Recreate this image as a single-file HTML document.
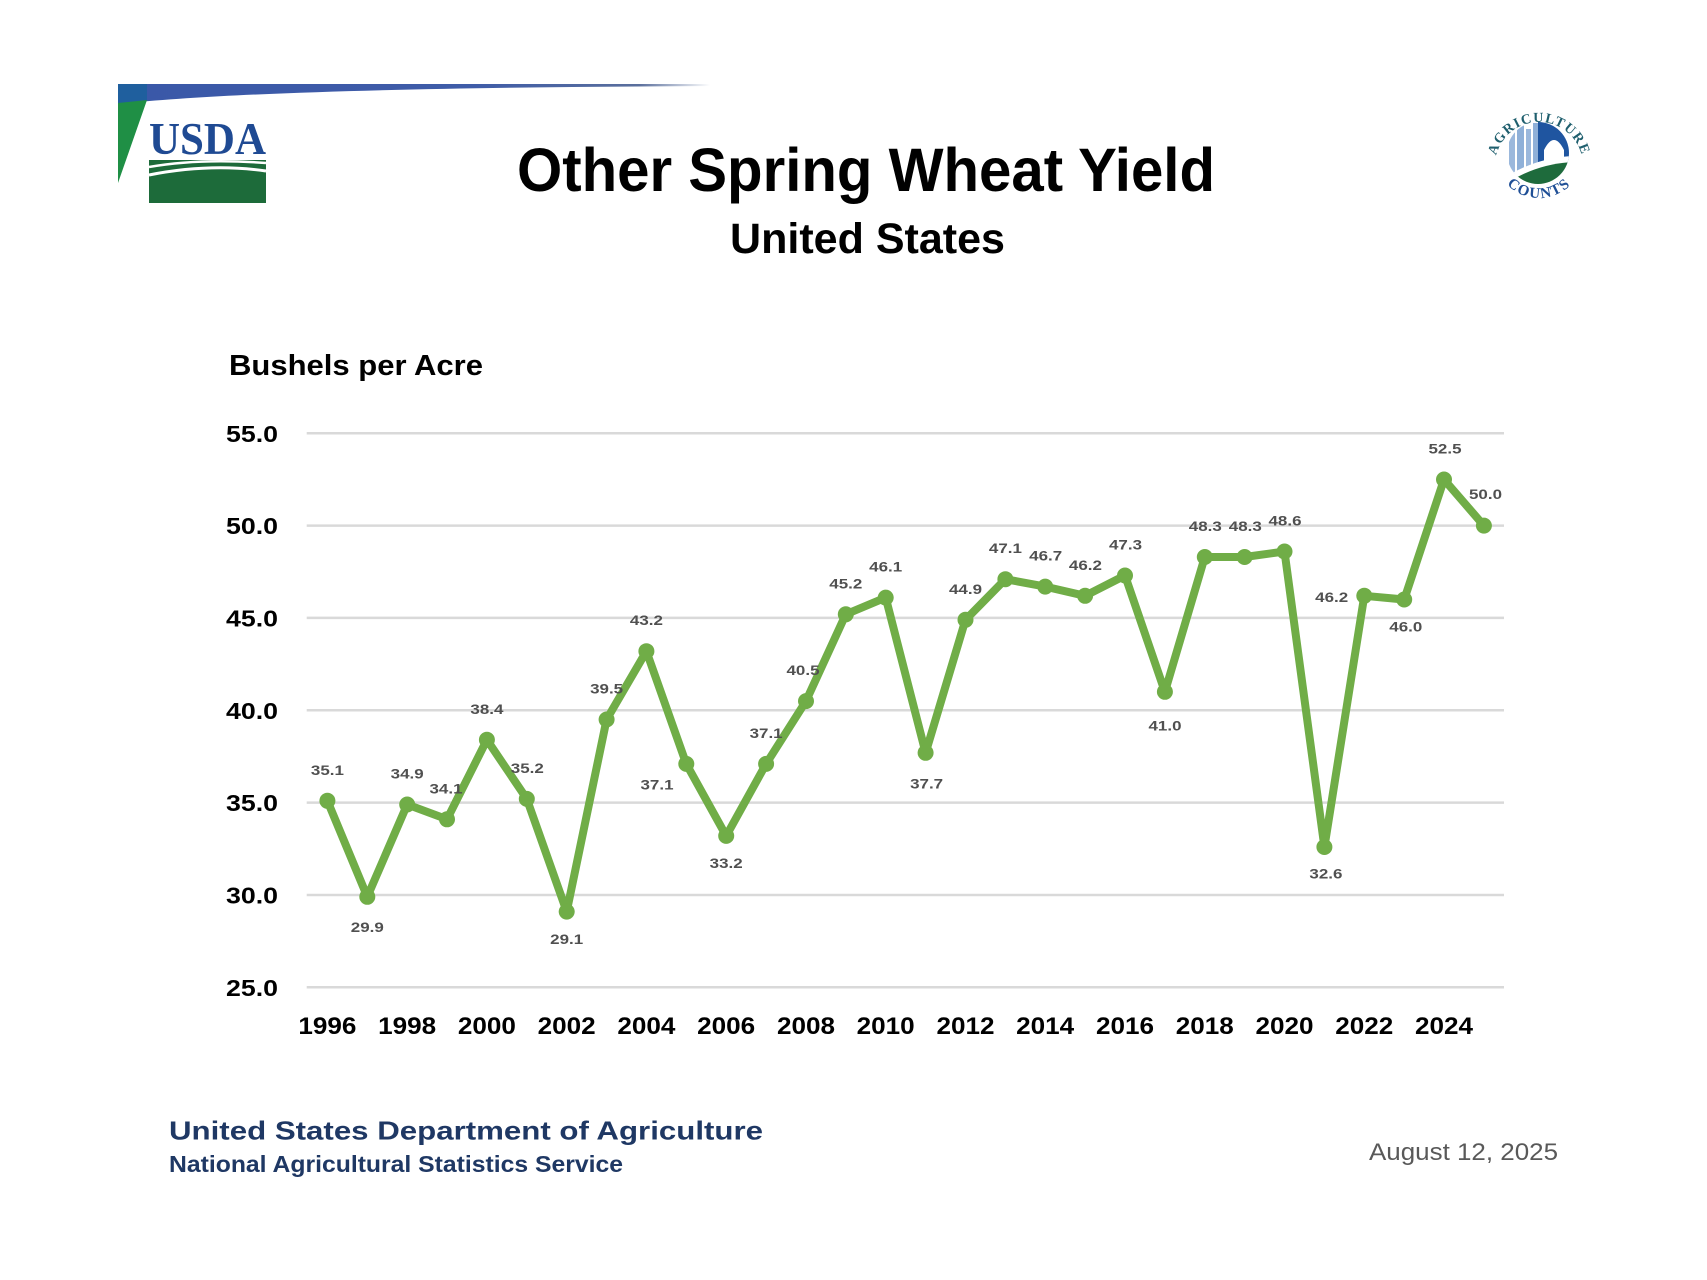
<!DOCTYPE html>
<html>
<head>
<meta charset="utf-8">
<style>
html,body{margin:0;padding:0;background:#fff;}
svg{display:block;}
</style>
</head>
<body>
<svg width="1707" height="1280" viewBox="0 0 1707 1280" xmlns="http://www.w3.org/2000/svg">
<defs>
<linearGradient id="band" x1="0" y1="0" x2="1" y2="0">
<stop offset="0" stop-color="#3a58a8"/>
<stop offset="0.6" stop-color="#3f5ca8"/>
<stop offset="0.88" stop-color="#5a6f9c"/>
<stop offset="1" stop-color="#ffffff"/>
</linearGradient>
<clipPath id="emb"><circle cx="1538" cy="153" r="31"/></clipPath>
<path id="arcTop" d="M1495,166 A43,43 0 0 1 1583,166"/>
<path id="arcBot" d="M1494,153 A45,45 0 0 0 1584,153"/>
</defs>
<rect width="1707" height="1280" fill="#fff"/>

<!-- top band -->
<path d="M118,84 L710,84 L710,86 C500,87 250,90 118,104 Z" fill="url(#band)"/>
<path d="M118,84 L147,84 L147,100 L118,104 Z" fill="#1f5f9e"/>
<polygon points="118,103 147,100 118,183" fill="#1f8f45"/>

<!-- USDA logo -->
<text x="149" y="154" font-family="Liberation Serif, serif" font-size="45" font-weight="bold" fill="#1f4a93" textLength="117" lengthAdjust="spacingAndGlyphs">USDA</text>
<rect x="149" y="160" width="117" height="43" fill="#1d6b3a"/>
<path d="M149,167 Q200,158 266,163" stroke="#fff" stroke-width="2.5" fill="none"/>
<path d="M149,175 Q210,163 266,171" stroke="#fff" stroke-width="3" fill="none"/>

<!-- Agriculture Counts logo -->
<g clip-path="url(#emb)">
<rect x="1505" y="118" width="34" height="70" fill="#fff"/>
<rect x="1509" y="128" width="6" height="50" fill="#9bb8dc"/>
<rect x="1517" y="121" width="7" height="57" fill="#8fb0d8"/>
<rect x="1526" y="129" width="5" height="49" fill="#9bb8dc"/>
<rect x="1533" y="123" width="5" height="55" fill="#8fb0d8"/>
<rect x="1538" y="118" width="34" height="60" fill="#1f55a0"/>
<path d="M1544,180 L1544,150 Q1554,130 1564,150 L1564,180 Z" fill="#fff"/>
<path d="M1504,178 Q1535,158 1572,156 L1572,190 L1504,190 Z" fill="#fff"/>
<path d="M1504,185 Q1535,164 1572,162 L1572,190 L1504,190 Z" fill="#1e6b3c"/>
</g>
<text font-family="Liberation Serif, serif" font-size="14" font-weight="bold" fill="#1f5f6e" letter-spacing="1.2"><textPath href="#arcTop" startOffset="50%" text-anchor="middle">AGRICULTURE</textPath></text>
<text font-family="Liberation Serif, serif" font-size="15" font-weight="bold" fill="#1f4f96" letter-spacing="1.5"><textPath href="#arcBot" startOffset="50%" text-anchor="middle">COUNTS</textPath></text>

<!-- Titles -->
<text x="517" y="191" font-family="Liberation Sans, sans-serif" font-size="61" font-weight="bold" fill="#000" textLength="698" lengthAdjust="spacingAndGlyphs">Other Spring Wheat Yield</text>
<text x="730" y="253" font-family="Liberation Sans, sans-serif" font-size="43" font-weight="bold" fill="#000" textLength="275" lengthAdjust="spacingAndGlyphs">United States</text>
<text x="229" y="375" font-family="Liberation Sans, sans-serif" font-size="29" font-weight="bold" fill="#000" textLength="254" lengthAdjust="spacingAndGlyphs">Bushels per Acre</text>

<!-- gridlines -->
<g stroke="#d9d9d9" stroke-width="2.5">
<line x1="306.7" y1="433.3" x2="1504" y2="433.3"/>
<line x1="306.7" y1="525.6" x2="1504" y2="525.6"/>
<line x1="306.7" y1="617.9" x2="1504" y2="617.9"/>
<line x1="306.7" y1="710.3" x2="1504" y2="710.3"/>
<line x1="306.7" y1="802.6" x2="1504" y2="802.6"/>
<line x1="306.7" y1="895.0" x2="1504" y2="895.0"/>
<line x1="306.7" y1="987.3" x2="1504" y2="987.3"/>
</g>

<!-- y labels -->
<g font-family="Liberation Sans, sans-serif" font-size="23" font-weight="bold" fill="#000" text-anchor="end">
<text x="278" y="441.8" textLength="52" lengthAdjust="spacingAndGlyphs">55.0</text>
<text x="278" y="534.1" textLength="52" lengthAdjust="spacingAndGlyphs">50.0</text>
<text x="278" y="626.4" textLength="52" lengthAdjust="spacingAndGlyphs">45.0</text>
<text x="278" y="718.8" textLength="52" lengthAdjust="spacingAndGlyphs">40.0</text>
<text x="278" y="811.1" textLength="52" lengthAdjust="spacingAndGlyphs">35.0</text>
<text x="278" y="903.5" textLength="52" lengthAdjust="spacingAndGlyphs">30.0</text>
<text x="278" y="995.8" textLength="52" lengthAdjust="spacingAndGlyphs">25.0</text>
</g>

<!-- x labels -->
<g font-family="Liberation Sans, sans-serif" font-size="24" font-weight="bold" fill="#000" text-anchor="middle">
<text x="327.4" y="1034" textLength="58" lengthAdjust="spacingAndGlyphs">1996</text>
<text x="407.2" y="1034" textLength="58" lengthAdjust="spacingAndGlyphs">1998</text>
<text x="486.9" y="1034" textLength="58" lengthAdjust="spacingAndGlyphs">2000</text>
<text x="566.7" y="1034" textLength="58" lengthAdjust="spacingAndGlyphs">2002</text>
<text x="646.4" y="1034" textLength="58" lengthAdjust="spacingAndGlyphs">2004</text>
<text x="726.2" y="1034" textLength="58" lengthAdjust="spacingAndGlyphs">2006</text>
<text x="806.0" y="1034" textLength="58" lengthAdjust="spacingAndGlyphs">2008</text>
<text x="885.7" y="1034" textLength="58" lengthAdjust="spacingAndGlyphs">2010</text>
<text x="965.5" y="1034" textLength="58" lengthAdjust="spacingAndGlyphs">2012</text>
<text x="1045.2" y="1034" textLength="58" lengthAdjust="spacingAndGlyphs">2014</text>
<text x="1125.0" y="1034" textLength="58" lengthAdjust="spacingAndGlyphs">2016</text>
<text x="1204.8" y="1034" textLength="58" lengthAdjust="spacingAndGlyphs">2018</text>
<text x="1284.5" y="1034" textLength="58" lengthAdjust="spacingAndGlyphs">2020</text>
<text x="1364.3" y="1034" textLength="58" lengthAdjust="spacingAndGlyphs">2022</text>
<text x="1444.0" y="1034" textLength="58" lengthAdjust="spacingAndGlyphs">2024</text>
</g>

<!-- series -->
<polyline fill="none" stroke="#70ad47" stroke-width="8" stroke-linejoin="round" stroke-linecap="round" points="327.4,800.8 367.3,896.8 407.2,804.5 447.0,819.3 486.9,739.8 526.8,798.9 566.7,911.6 606.6,719.5 646.4,651.2 686.3,763.9 726.2,835.9 766.1,763.9 806.0,701.1 845.8,614.3 885.7,597.6 925.6,752.8 965.5,619.8 1005.4,579.2 1045.2,586.6 1085.1,595.8 1125.0,575.5 1164.9,691.8 1204.8,557.0 1244.6,557.0 1284.5,551.5 1324.4,847.0 1364.3,595.8 1404.2,599.5 1444.0,479.5 1483.9,525.6"/>
<g fill="#70ad47">
<circle cx="327.4" cy="800.8" r="8"/><circle cx="367.3" cy="896.8" r="8"/><circle cx="407.2" cy="804.5" r="8"/><circle cx="447.0" cy="819.3" r="8"/><circle cx="486.9" cy="739.8" r="8"/><circle cx="526.8" cy="798.9" r="8"/><circle cx="566.7" cy="911.6" r="8"/><circle cx="606.6" cy="719.5" r="8"/><circle cx="646.4" cy="651.2" r="8"/><circle cx="686.3" cy="763.9" r="8"/><circle cx="726.2" cy="835.9" r="8"/><circle cx="766.1" cy="763.9" r="8"/><circle cx="806.0" cy="701.1" r="8"/><circle cx="845.8" cy="614.3" r="8"/><circle cx="885.7" cy="597.6" r="8"/><circle cx="925.6" cy="752.8" r="8"/><circle cx="965.5" cy="619.8" r="8"/><circle cx="1005.4" cy="579.2" r="8"/><circle cx="1045.2" cy="586.6" r="8"/><circle cx="1085.1" cy="595.8" r="8"/><circle cx="1125.0" cy="575.5" r="8"/><circle cx="1164.9" cy="691.8" r="8"/><circle cx="1204.8" cy="557.0" r="8"/><circle cx="1244.6" cy="557.0" r="8"/><circle cx="1284.5" cy="551.5" r="8"/><circle cx="1324.4" cy="847.0" r="8"/><circle cx="1364.3" cy="595.8" r="8"/><circle cx="1404.2" cy="599.5" r="8"/><circle cx="1444.0" cy="479.5" r="8"/><circle cx="1483.9" cy="525.6" r="8"/>
</g>

<!-- data labels -->
<g font-family="Liberation Sans, sans-serif" font-size="14" font-weight="bold" fill="#505050" text-anchor="middle">
<text x="327.4" y="774.8" textLength="33" lengthAdjust="spacingAndGlyphs">35.1</text>
<text x="367.3" y="931.8" textLength="33" lengthAdjust="spacingAndGlyphs">29.9</text>
<text x="407.2" y="778.5" textLength="33" lengthAdjust="spacingAndGlyphs">34.9</text>
<text x="446.0" y="793.3" textLength="33" lengthAdjust="spacingAndGlyphs">34.1</text>
<text x="486.9" y="713.8" textLength="33" lengthAdjust="spacingAndGlyphs">38.4</text>
<text x="527.3" y="772.9" textLength="33" lengthAdjust="spacingAndGlyphs">35.2</text>
<text x="566.7" y="944.1" textLength="33" lengthAdjust="spacingAndGlyphs">29.1</text>
<text x="606.6" y="693.5" textLength="33" lengthAdjust="spacingAndGlyphs">39.5</text>
<text x="646.4" y="625.2" textLength="33" lengthAdjust="spacingAndGlyphs">43.2</text>
<text x="657.0" y="789.5" textLength="33" lengthAdjust="spacingAndGlyphs">37.1</text>
<text x="726.2" y="867.9" textLength="33" lengthAdjust="spacingAndGlyphs">33.2</text>
<text x="766.1" y="737.9" textLength="33" lengthAdjust="spacingAndGlyphs">37.1</text>
<text x="803.0" y="675.1" textLength="33" lengthAdjust="spacingAndGlyphs">40.5</text>
<text x="845.8" y="588.3" textLength="33" lengthAdjust="spacingAndGlyphs">45.2</text>
<text x="885.7" y="571.6" textLength="33" lengthAdjust="spacingAndGlyphs">46.1</text>
<text x="926.6" y="788.3" textLength="33" lengthAdjust="spacingAndGlyphs">37.7</text>
<text x="965.5" y="593.8" textLength="33" lengthAdjust="spacingAndGlyphs">44.9</text>
<text x="1005.4" y="553.2" textLength="33" lengthAdjust="spacingAndGlyphs">47.1</text>
<text x="1045.7" y="560.6" textLength="33" lengthAdjust="spacingAndGlyphs">46.7</text>
<text x="1085.4" y="569.8" textLength="33" lengthAdjust="spacingAndGlyphs">46.2</text>
<text x="1125.5" y="549.5" textLength="33" lengthAdjust="spacingAndGlyphs">47.3</text>
<text x="1165.0" y="730.3" textLength="33" lengthAdjust="spacingAndGlyphs">41.0</text>
<text x="1205.3" y="531.0" textLength="33" lengthAdjust="spacingAndGlyphs">48.3</text>
<text x="1245.3" y="531.0" textLength="33" lengthAdjust="spacingAndGlyphs">48.3</text>
<text x="1285.0" y="525.5" textLength="33" lengthAdjust="spacingAndGlyphs">48.6</text>
<text x="1325.9" y="878.4" textLength="33" lengthAdjust="spacingAndGlyphs">32.6</text>
<text x="1331.7" y="602.0" textLength="33" lengthAdjust="spacingAndGlyphs">46.2</text>
<text x="1405.8" y="631.5" textLength="33" lengthAdjust="spacingAndGlyphs">46.0</text>
<text x="1445.0" y="453.5" textLength="33" lengthAdjust="spacingAndGlyphs">52.5</text>
<text x="1485.5" y="499.0" textLength="33" lengthAdjust="spacingAndGlyphs">50.0</text>
</g>

<!-- footer -->
<text x="169" y="1139.5" font-family="Liberation Sans, sans-serif" font-size="26" font-weight="bold" fill="#1f3864" textLength="594" lengthAdjust="spacingAndGlyphs">United States Department of Agriculture</text>
<text x="169" y="1172" font-family="Liberation Sans, sans-serif" font-size="23" font-weight="bold" fill="#1f3864" textLength="454" lengthAdjust="spacingAndGlyphs">National Agricultural Statistics Service</text>
<text x="1369" y="1160" font-family="Liberation Sans, sans-serif" font-size="24" fill="#595959" textLength="189" lengthAdjust="spacingAndGlyphs">August 12, 2025</text>
</svg>
</body>
</html>
